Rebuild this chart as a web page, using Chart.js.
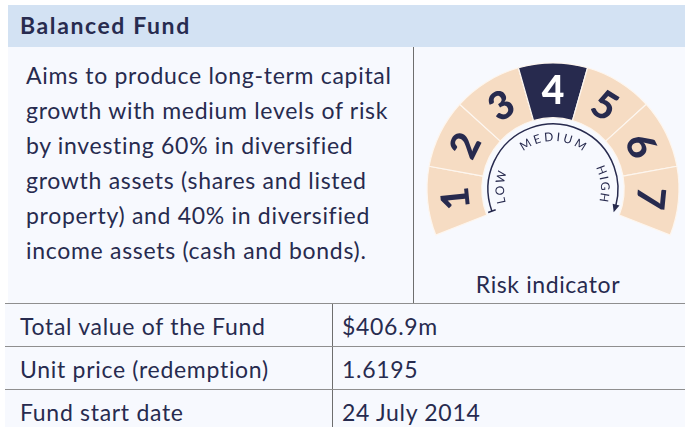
<!DOCTYPE html>
<html>
<head>
<meta charset="utf-8">
<script src="https://cdn.jsdelivr.net/npm/chart.js@4.4.1/dist/chart.umd.min.js"></script>
<style>
  html, body { margin: 0; padding: 0; background: #ffffff; }
  body { width: 685px; height: 427px; position: relative; overflow: hidden;
         font-family: Lato, "Noto Sans", sans-serif; color: #272b4f; }
  .header { position: absolute; left: 8px; top: 5px; width: 677px; height: 42px;
            background: #d3e2f3; }
  .header span { position: absolute; left: 12px; top: 6px; font-weight: 700; font-size: 23px; letter-spacing: 1.6px; }
  .panel { position: absolute; left: 8px; top: 47px; width: 677px; height: 256px; background: #f7f9fe; }
  .vline { position: absolute; left: 413px; top: 47px; width: 1px; height: 256px; background: #6e6e6e; }
  .desc { position: absolute; left: 26px; top: 58px; font-size: 23px; line-height: 35px;
          letter-spacing: 0.7px; white-space: nowrap; }
  .risk-title { position: absolute; left: 414px; width: 268px; top: 270px; text-align: center;
                font-size: 23px; letter-spacing: 0.6px; }
  #riskChart { position: absolute; left: 417px; top: 47px; }
  .table { position: absolute; left: 5px; top: 303px; width: 680px; height: 124px; background: #f7f9fe; }
  .row { position: absolute; left: 0; width: 680px; height: 43px; border-top: 1px solid #8f8f8f; box-sizing: border-box; }
  .row .k, .row .v { position: absolute; top: 8px; font-size: 23px; letter-spacing: 0.7px; }
  .row .k { left: 15px; }
  .row .v { left: 337px; }
  .tvline { position: absolute; left: 327px; top: 0; width: 1px; height: 124px; background: #6e6e6e; }
</style>
</head>
<body>
<div class="header"><span>Balanced Fund</span></div>
<div class="panel"></div>
<div class="vline"></div>
<div class="desc" id="desc"></div>
<canvas id="riskChart" width="272" height="204"></canvas>
<div class="risk-title">Risk indicator</div>
<div class="table" id="table"><div class="tvline"></div></div>

<script>
// Risk scale data
const riskLevels = ['1', '2', '3', '4', '5', '6', '7'];
const segmentWeights = [1, 1, 1, 1, 1, 1, 1];
const selectedRisk = 4;
const scaleWords = ['LOW', 'MEDIUM', 'HIGH'];

// Fund facts
const descLines = [
    'Aims to produce long-term capital',
    'growth with medium levels of risk',
    'by investing 60% in diversified',
    'growth assets (shares and listed',
    'property) and 40% in diversified',
    'income assets (cash and bonds).'
];
const factLabels = ['Total value of the Fund', 'Unit price (redemption)', 'Fund start date'];
const factValues = ['$406.9m', '1.6195', '24 July 2014'];

const NAVY = '#272a4e';
const PEACH = '#f6dcc3';

/**
 * TEXT BLOCKS
 */
document.getElementById('desc').innerHTML = descLines.join('<br>');

const table = document.getElementById('table');
factLabels.forEach((label, i) => {
    const row = document.createElement('div');
    row.className = 'row';
    row.style.top = (i * 43) + 'px';
    row.innerHTML = `<span class="k">${label}</span><span class="v">${factValues[i]}</span>`;
    table.appendChild(row);
});

/**
 * HELPER: text along a circle, reading clockwise, letter tops outward
 */
function drawArcText(ctx, cx, cy, text, r, centerDeg, spacing) {
    const chars = [...text];
    const widths = chars.map(ch => ctx.measureText(ch).width);
    const total = widths.reduce((a, b) => a + b, 0) + spacing * (chars.length - 1);
    let a = centerDeg * Math.PI / 180 - total / (2 * r);
    chars.forEach((ch, i) => {
        a += widths[i] / 2 / r;
        ctx.save();
        ctx.translate(cx + Math.cos(a) * r, cy + Math.sin(a) * r);
        ctx.rotate(a + Math.PI / 2);
        ctx.fillText(ch, 0, 0);
        ctx.restore();
        a += (widths[i] / 2 + spacing) / r;
    });
}

// Numbers on each segment
const numberPlugin = {
    id: 'riskNumbers',
    afterDatasetsDraw(chart) {
        const ctx = chart.ctx;
        const size = 39;
        chart.getDatasetMeta(0).data.forEach((arc, i) => {
            const p = arc.getProps(['x', 'y', 'startAngle', 'endAngle', 'innerRadius', 'outerRadius']);
            const mid = (p.startAngle + p.endAngle) / 2;
            const r = (p.innerRadius + p.outerRadius) / 2;
            ctx.save();
            ctx.translate(p.x + Math.cos(mid) * r, p.y + Math.sin(mid) * r);
            ctx.rotate(mid + Math.PI / 2);
            ctx.font = `900 ${size}px Lato`;
            ctx.fillStyle = Number(riskLevels[i]) === selectedRisk ? '#ffffff' : NAVY;
            ctx.textAlign = 'center';
            ctx.textBaseline = 'alphabetic';
            ctx.fillText(riskLevels[i], 0, size * 0.36);
            ctx.restore();
        });
    }
};

// Inner LOW -> HIGH arrow ring
const scalePlugin = {
    id: 'riskScale',
    afterDatasetsDraw(chart) {
        const ctx = chart.ctx;
        const arc0 = chart.getDatasetMeta(0).data[0];
        const cx = arc0.x, cy = arc0.y;
        const r = 65;
        const rad = d => d * Math.PI / 180;
        ctx.save();
        ctx.strokeStyle = NAVY;
        ctx.fillStyle = NAVY;
        ctx.lineWidth = 1.5;

        ctx.beginPath();
        ctx.arc(cx, cy, r, rad(160), rad(15));
        ctx.stroke();

        // start tick
        ctx.beginPath();
        ctx.moveTo(cx + Math.cos(rad(160)) * (r - 4), cy + Math.sin(rad(160)) * (r - 4));
        ctx.lineTo(cx + Math.cos(rad(160)) * (r + 4), cy + Math.sin(rad(160)) * (r + 4));
        ctx.stroke();

        // arrow head
        const tipA = rad(21), baseA = rad(14);
        ctx.beginPath();
        ctx.moveTo(cx + Math.cos(tipA) * r, cy + Math.sin(tipA) * r);
        ctx.lineTo(cx + Math.cos(baseA) * (r + 3.5), cy + Math.sin(baseA) * (r + 3.5));
        ctx.lineTo(cx + Math.cos(baseA) * (r - 3.5), cy + Math.sin(baseA) * (r - 3.5));
        ctx.closePath();
        ctx.fill();

        ctx.font = '400 12px Lato';
        ctx.textAlign = 'center';
        ctx.textBaseline = 'alphabetic';
        drawArcText(ctx, cx, cy, scaleWords[0], 49, 182, 1.5);
        drawArcText(ctx, cx, cy, scaleWords[1], 48, -90, 2.8);
        drawArcText(ctx, cx, cy, scaleWords[2], 48, -6, 1.5);
        ctx.restore();
    }
};

new Chart(document.getElementById('riskChart'), {
    type: 'doughnut',
    data: {
        labels: riskLevels,
        datasets: [{
            data: segmentWeights,
            backgroundColor: riskLevels.map(l => Number(l) === selectedRisk ? NAVY : PEACH),
            borderColor: '#fdf6ef',
            borderWidth: 1.2
        }]
    },
    options: {
        responsive: false,
        animation: false,
        events: [],
        rotation: -111.5,
        circumference: 223,
        radius: 126,
        cutout: '56.5%',
        layout: { padding: 0 },
        plugins: { legend: { display: false }, tooltip: { enabled: false } }
    },
    plugins: [numberPlugin, scalePlugin]
});
</script>
</body>
</html>
